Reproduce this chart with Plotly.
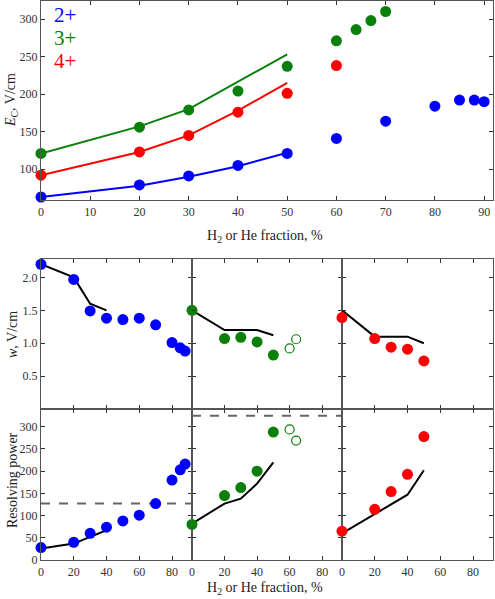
import plotly.graph_objects as go

W, H = 495, 599

# ---------------- data ----------------
# Top panel: E_C vs fraction
x2p = [0, 20, 30, 40, 50, 60, 70, 80, 85, 88, 90]
y2p = [63, 79, 91, 105, 121, 141, 164, 184, 192, 192, 190]
x3p = [0, 20, 30, 40, 50, 60, 64, 67, 70]
y3p = [121, 156, 179, 204, 237, 271, 286, 298, 310]
x4p = [0, 20, 30, 40, 50, 60]
y4p = [92, 123, 145, 176, 201, 238]
xline = [0, 20, 30, 40, 50]
y2line = [63, 78, 90, 104, 122]
y3line = [121, 157, 180, 216, 253]
y4line = [92, 123, 145, 178, 215]

# Bottom panels: w
xw2 = [0, 20, 30, 40, 50, 60, 70, 80, 85, 88]
w2 = [2.2, 1.97, 1.49, 1.38, 1.36, 1.38, 1.28, 1.01, 0.93, 0.88]
xw2line = [0, 20, 30, 40]
w2line = [2.2, 2.0, 1.6, 1.5]
xw3 = [0, 20, 30, 40, 50]
w3 = [1.5, 1.07, 1.09, 1.02, 0.82]
xw3open = [60, 64]
w3open = [0.92, 1.06]
xw3line = [0, 20, 40, 50]
w3line = [1.5, 1.2, 1.2, 1.12]
xw4 = [0, 20, 30, 40, 50]
w4 = [1.39, 1.07, 0.94, 0.91, 0.73]
xw4line = [0, 20, 40, 50]
w4line = [1.5, 1.1, 1.1, 1.0]

# Bottom panels: resolving power
xr2 = [0, 20, 30, 40, 50, 60, 70, 80, 85, 88]
r2 = [28, 40, 60, 74, 88, 101, 127, 180, 203, 216]
xr2line = [0, 20, 30, 40]
r2line = [26, 37, 52, 67]
xr3 = [0, 20, 30, 40, 50]
r3 = [80, 145, 163, 200, 288]
xr3open = [60, 64]
r3open = [294, 269]
xr3line = [0, 20, 30, 40, 50]
r3line = [82, 127, 138, 172, 220]
xr4 = [0, 20, 30, 40, 50]
r4 = [65, 114, 154, 193, 278]
xr4line = [0, 40, 50]
r4line = [60, 147, 202]
dash_x = [0, 92.2]
dash2 = [127, 127]
dash3 = [325, 325]

BLUE, GREEN, RED = "#0000ff", "#0a800a", "#ff0000"
FONT = "Liberation Serif"

def px(x):
    return x / W

def py(y):
    return 1 - y / H

fig = go.Figure()

def mk(x, y, color, xa, ya, open_=False, size=11):
    fig.add_trace(go.Scatter(
        x=x, y=y, mode="markers", xaxis=xa, yaxis=ya, cliponaxis=False,
        marker=dict(size=size, color=color,
                    symbol="circle-open" if open_ else "circle",
                    line=dict(color=color, width=1.2 if open_ else 0)),
        showlegend=False, hoverinfo="skip"))

def ln(x, y, color, xa, ya, dash="solid", width=2):
    fig.add_trace(go.Scatter(
        x=x, y=y, mode="lines", xaxis=xa, yaxis=ya, cliponaxis=False,
        line=dict(color=color, width=width, dash=dash),
        showlegend=False, hoverinfo="skip"))

# top
ln(xline, y2line, BLUE, "x", "y")
ln(xline, y3line, GREEN, "x", "y")
ln(xline, y4line, RED, "x", "y")
mk(x2p, y2p, BLUE, "x", "y")
mk(x3p, y3p, GREEN, "x", "y")
mk(x4p, y4p, RED, "x", "y")

# row1
ln(xw2line, w2line, "black", "x2", "y2")
mk(xw2, w2, BLUE, "x2", "y2")
ln(xw3line, w3line, "black", "x3", "y3")
mk(xw3, w3, GREEN, "x3", "y3")
mk(xw3open, w3open, GREEN, "x3", "y3", open_=True, size=9)
ln(xw4line, w4line, "black", "x4", "y4")
mk(xw4, w4, RED, "x4", "y4")

# row2
ln(dash_x, dash2, "#666666", "x5", "y5", dash="dash")
ln(xr2line, r2line, "black", "x5", "y5")
mk(xr2, r2, BLUE, "x5", "y5")
ln(dash_x, dash3, "#666666", "x6", "y6", dash="dash")
ln(xr3line, r3line, "black", "x6", "y6")
mk(xr3, r3, GREEN, "x6", "y6")
mk(xr3open, r3open, GREEN, "x6", "y6", open_=True, size=9)
ln(xr4line, r4line, "black", "x7", "y7")
mk(xr4, r4, RED, "x7", "y7")

tickfont = dict(family=FONT, size=12, color="#333")
common = dict(showline=True, linecolor="#555", linewidth=1.2, mirror="ticks",
              ticks="inside", ticklen=4, tickcolor="#333", tickwidth=1,
              showgrid=False, zeroline=False, tickfont=tickfont, automargin=False)

cols = [(41, 192), (192, 342), (342, 493)]
row1 = (259, 409)
row2 = (409, 560)

layout = dict(
    width=W, height=H, autosize=False,
    margin=dict(l=0, r=0, t=0, b=0),
    paper_bgcolor="white", plot_bgcolor="white",
    showlegend=False,
    xaxis=dict(domain=[px(41), px(493)], range=[0, 91.8], tickvals=list(range(0, 91, 10)),
               anchor="y", **common),
    yaxis=dict(domain=[py(200), py(1)], range=[59, 324], tickvals=[100, 150, 200, 250, 300],
               anchor="x", **common),
)

idx = 2
for (r, showx) in [(row1, False), (row2, True)]:
    for ci, (c0, c1) in enumerate(cols):
        xa = f"xaxis{idx}"
        ya = f"yaxis{idx}"
        layout[xa] = dict(domain=[px(c0), px(c1)], range=[0, 92.2],
                          tickvals=[0, 20, 40, 60, 80], showticklabels=showx,
                          anchor=f"y{idx}", **common)
        if r == row1:
            layout[ya] = dict(domain=[py(r[1]), py(r[0])], range=[0, 2.28],
                              tickvals=[0.5, 1.0, 1.5, 2.0], tickformat=".1f",
                              showticklabels=(ci == 0), anchor=f"x{idx}", **common)
        else:
            layout[ya] = dict(domain=[py(r[1]), py(r[0])], range=[0, 340],
                              tickvals=[0, 50, 100, 150, 200, 250, 300],
                              showticklabels=(ci == 0), anchor=f"x{idx}", **common)
        idx += 1

fig.update_layout(**layout)

labfont = dict(family=FONT, size=14, color="#222")
ann = [
    dict(text="2+", x=px(52), y=py(15), font=dict(family=FONT, size=21, color=BLUE)),
    dict(text="3+", x=px(52), y=py(38), font=dict(family=FONT, size=21, color=GREEN)),
    dict(text="4+", x=px(52), y=py(61), font=dict(family=FONT, size=21, color=RED)),
]
for a in ann:
    fig.add_annotation(xref="paper", yref="paper", xanchor="left", yanchor="middle",
                       showarrow=False, **a)

def label(text, x, y, angle=0):
    fig.add_annotation(text=text, x=px(x), y=py(y), textangle=angle,
                       xref="paper", yref="paper", xanchor="center", yanchor="middle",
                       showarrow=False, font=labfont)

label("H<sub>2</sub> or He fraction, %", 265, 236)
label("H<sub>2</sub> or He fraction, %", 265, 588)
label("<i>E</i><sub>C</sub>, V/cm", 11, 100, -90)
label("<i>w</i>, V/cm", 12, 335, -90)
label("Resolving power", 12, 480, -90)

fig.write_html("out.html", config={"displayModeBar": False},
               post_script="document.body.style.margin='0';")
